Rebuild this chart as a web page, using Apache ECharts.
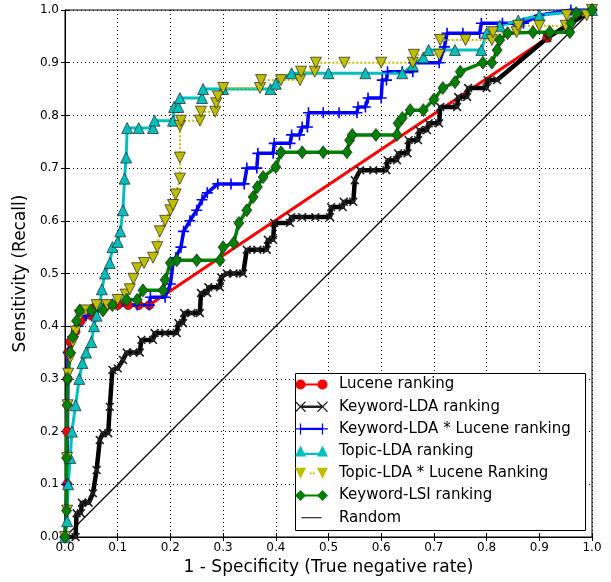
<!DOCTYPE html>
<html>
<head>
<meta charset="utf-8">
<script src="https://cdn.jsdelivr.net/npm/echarts@6/dist/echarts.min.js"></script>
<style>
  html, body { margin: 0; padding: 0; background: #fff; }
  #roc { width: 611px; height: 582px; }
</style>
</head>
<body>
<div id="roc"></div>
<script>
// ROC curves, points are [1 - specificity, sensitivity]
var seriesNames = ['Lucene ranking', 'Keyword-LDA ranking', 'Keyword-LDA * Lucene ranking',
    'Topic-LDA ranking', 'Topic-LDA * Lucene Ranking', 'Keyword-LSI ranking', 'Random'];

var tickValues = [0, 0.1, 0.2, 0.3, 0.4, 0.5, 0.6, 0.7, 0.8, 0.9, 1.0];

var luceneRoc = [[0, 0], [0.004, 0.1], [0.004, 0.2], [0.005, 0.3], [0.006, 0.35], [0.01, 0.37],
    [0.02, 0.39], [0.03, 0.41], [0.05, 0.42], [0.06, 0.44], [0.08, 0.44], [0.1, 0.44],
    [0.12, 0.44], [0.14, 0.44], [0.16, 0.44], [0.915, 0.947], [1, 1]];

var keywordLdaRoc = [[0, 0], [0.02, 0], [0.022, 0.045], [0.03, 0.045], [0.032, 0.065], [0.045, 0.065],
    [0.053, 0.083], [0.06, 0.127], [0.066, 0.184], [0.072, 0.197], [0.082, 0.197], [0.085, 0.247],
    [0.09, 0.317], [0.1, 0.32], [0.11, 0.336], [0.117, 0.35], [0.13, 0.35], [0.142, 0.35],
    [0.145, 0.374], [0.167, 0.374], [0.17, 0.387], [0.19, 0.387], [0.212, 0.387], [0.215, 0.406],
    [0.224, 0.406], [0.226, 0.425], [0.24, 0.425], [0.256, 0.425], [0.258, 0.463], [0.27, 0.463],
    [0.272, 0.474], [0.294, 0.474], [0.296, 0.493], [0.307, 0.5], [0.32, 0.5], [0.338, 0.5],
    [0.345, 0.545], [0.365, 0.545], [0.383, 0.545], [0.385, 0.564], [0.395, 0.564], [0.397, 0.596],
    [0.427, 0.596], [0.429, 0.607], [0.45, 0.607], [0.475, 0.607], [0.503, 0.607], [0.505, 0.626],
    [0.527, 0.626], [0.529, 0.636], [0.547, 0.636], [0.55, 0.677], [0.56, 0.696], [0.585, 0.696],
    [0.61, 0.696], [0.612, 0.715], [0.63, 0.715], [0.632, 0.728], [0.65, 0.728], [0.652, 0.753],
    [0.67, 0.753], [0.672, 0.772], [0.687, 0.772], [0.69, 0.785], [0.71, 0.785], [0.712, 0.816],
    [0.744, 0.816], [0.746, 0.835], [0.763, 0.835], [0.765, 0.852], [0.8, 0.852], [0.802, 0.867],
    [0.82, 0.867], [0.915, 0.947], [1, 1]];

var keywordLdaLuceneRoc = [[0, 0], [0.004, 0.1], [0.005, 0.25], [0.006, 0.35], [0.015, 0.38],
    [0.025, 0.4], [0.04, 0.42], [0.06, 0.43], [0.08, 0.44], [0.137, 0.44], [0.16, 0.44],
    [0.162, 0.455], [0.19, 0.455], [0.2, 0.48], [0.205, 0.52], [0.21, 0.53], [0.22, 0.55],
    [0.225, 0.58], [0.237, 0.6], [0.25, 0.62], [0.26, 0.64], [0.27, 0.653], [0.29, 0.67],
    [0.315, 0.67], [0.34, 0.67], [0.345, 0.7], [0.364, 0.7], [0.366, 0.728], [0.395, 0.728],
    [0.397, 0.747], [0.427, 0.747], [0.43, 0.763], [0.445, 0.763], [0.45, 0.778], [0.46, 0.778],
    [0.462, 0.805], [0.49, 0.805], [0.52, 0.805], [0.554, 0.805], [0.556, 0.816], [0.57, 0.816],
    [0.575, 0.833], [0.6, 0.833], [0.602, 0.867], [0.61, 0.867], [0.612, 0.883], [0.64, 0.883],
    [0.66, 0.883], [0.662, 0.9], [0.71, 0.9], [0.72, 0.93], [0.725, 0.956], [0.755, 0.956],
    [0.787, 0.956], [0.79, 0.975], [0.83, 0.975], [0.87, 0.975], [0.9, 0.99], [0.96, 1], [1, 1]];

var topicLdaRoc = [[0, 0], [0.004, 0.03], [0.006, 0.1], [0.01, 0.15], [0.013, 0.2], [0.02, 0.25],
    [0.027, 0.3], [0.033, 0.33], [0.04, 0.35], [0.05, 0.37], [0.055, 0.4], [0.06, 0.42],
    [0.066, 0.44], [0.07, 0.47], [0.076, 0.5], [0.085, 0.52], [0.09, 0.55], [0.1, 0.56],
    [0.105, 0.58], [0.11, 0.62], [0.113, 0.68], [0.116, 0.72], [0.118, 0.776], [0.14, 0.776],
    [0.167, 0.776], [0.17, 0.79], [0.205, 0.79], [0.207, 0.816], [0.215, 0.816], [0.218, 0.833],
    [0.26, 0.833], [0.262, 0.85], [0.3, 0.85], [0.39, 0.85], [0.4, 0.86], [0.43, 0.88],
    [0.5, 0.88], [0.57, 0.88], [0.64, 0.88], [0.66, 0.895], [0.68, 0.91], [0.69, 0.924],
    [0.74, 0.924], [0.79, 0.924], [0.8, 0.956], [0.825, 0.97], [0.86, 0.98], [0.9, 0.99], [1, 1]];

var topicLdaLuceneRoc = [[0, 0], [0.004, 0.05], [0.004, 0.15], [0.005, 0.25], [0.006, 0.31],
    [0.01, 0.34], [0.015, 0.37], [0.02, 0.39], [0.028, 0.42], [0.04, 0.43], [0.06, 0.44],
    [0.08, 0.44], [0.1, 0.45], [0.115, 0.46], [0.123, 0.47], [0.13, 0.49], [0.137, 0.51],
    [0.15, 0.52], [0.167, 0.53], [0.175, 0.55], [0.18, 0.58], [0.19, 0.6], [0.2, 0.62],
    [0.205, 0.63], [0.21, 0.65], [0.218, 0.68], [0.218, 0.72], [0.218, 0.78], [0.22, 0.79],
    [0.256, 0.79], [0.258, 0.807], [0.285, 0.807], [0.287, 0.823], [0.29, 0.836], [0.3, 0.852],
    [0.37, 0.852], [0.372, 0.867], [0.41, 0.867], [0.446, 0.867], [0.448, 0.883], [0.474, 0.883],
    [0.476, 0.9], [0.53, 0.9], [0.6, 0.9], [0.66, 0.9], [0.662, 0.915], [0.71, 0.915],
    [0.712, 0.943], [0.76, 0.943], [0.81, 0.943], [0.812, 0.958], [0.857, 0.958], [0.86, 0.97],
    [0.9, 0.97], [0.95, 0.97], [0.952, 0.99], [0.99, 0.99], [1, 1]];

var keywordLsiRoc = [[0, 0], [0.003, 0.05], [0.003, 0.15], [0.004, 0.25], [0.005, 0.3],
    [0.01, 0.35], [0.015, 0.38], [0.022, 0.41], [0.028, 0.43], [0.05, 0.43], [0.072, 0.43],
    [0.09, 0.44], [0.117, 0.45], [0.137, 0.45], [0.148, 0.468], [0.186, 0.468], [0.19, 0.488],
    [0.2, 0.52], [0.212, 0.525], [0.25, 0.525], [0.294, 0.525], [0.3, 0.55], [0.32, 0.558],
    [0.33, 0.596], [0.345, 0.62], [0.357, 0.645], [0.365, 0.664], [0.376, 0.683], [0.4, 0.702],
    [0.41, 0.73], [0.45, 0.73], [0.49, 0.73], [0.535, 0.73], [0.54, 0.753], [0.545, 0.763],
    [0.59, 0.763], [0.63, 0.763], [0.632, 0.785], [0.64, 0.795], [0.655, 0.81], [0.68, 0.81],
    [0.7, 0.83], [0.717, 0.852], [0.74, 0.863], [0.75, 0.883], [0.793, 0.9], [0.81, 0.9],
    [0.82, 0.924], [0.825, 0.943], [0.84, 0.956], [0.888, 0.958], [0.92, 0.958], [0.958, 0.958],
    [0.96, 0.975], [0.97, 0.994], [1, 1]];

var randomRoc = [[0, 0], [1, 1]];

// marker shapes
var plusPath = 'path://M4.7,0h1.6v4.7h4.7v1.6h-4.7v4.7h-1.6v-4.7h-4.7v-1.6h4.7z';
// legend icons: two markers joined by a line, in a 36x12 box
var corner = 'M0,0l0.01,0l0,0.01z M36,12l-0.01,0l0,-0.01z ';
var legendIcons = [
    'path://' + corner + 'M0.5,6a5.5,5.5 0 1,1 11,0a5.5,5.5 0 1,1 -11,0z M11,4.8h14v2.4h-14z M24.5,6a5.5,5.5 0 1,1 11,0a5.5,5.5 0 1,1 -11,0z',
    'path://' + corner + 'M0,1L1,0L6,5L11,0L12,1L7,6L12,11L11,12L6,7L1,12L0,11L5,6Z M6,4.6h24v2.8h-24z M24,1L25,0L30,5L35,0L36,1L31,6L36,11L35,12L30,7L25,12L24,11L29,6Z',
    'path://' + corner + 'M5.3,0h1.4v5.3h5.3v1.4h-5.3v5.3h-1.4v-5.3h-5.3v-1.4h5.3z M6,4.8h24v2.4h-24z M29.3,0h1.4v5.3h5.3v1.4h-5.3v5.3h-1.4v-5.3h-5.3v-1.4h5.3z',
    'path://' + corner + 'M0,12L6,0L12,12Z M10,7.8h16v2.4h-16z M24,12L30,0L36,12Z',
    'path://' + corner + 'M0,0L12,0L6,12Z M16,5h2v2h-2z M19.5,5h2v2h-2z M24,0L36,0L30,12Z',
    'path://' + corner + 'M0,6L6,0L12,6L6,12Z M10,4.8h16v2.4h-16z M24,6L30,0L36,6L30,12Z',
    'path://' + corner + 'M7,5.4h22v1.2h-22z'
];

var chart = echarts.init(document.getElementById('roc'));

function rocSeries(name, data, color, symbol, size, lineWidth, extra) {
    var s = {
        name: name,
        type: 'line',
        data: data,
        symbol: symbol,
        symbolSize: size,
        showSymbol: true,
        showAllSymbol: true,
        color: color,
        itemStyle: { color: color, borderColor: '#222', borderWidth: 0.7 },
        lineStyle: { color: color, width: lineWidth },
        emphasis: { disabled: true }
    };
    for (var k in extra) s[k] = extra[k];
    return s;
}

// one legend per entry, so each can carry its own two-marker icon
var legendBox = { left: 295, top: 373, width: 290, height: 157 };
var legends = seriesNames.map(function (n, i) {
    return {
        orient: 'vertical',
        left: legendBox.left, top: legendBox.top + 4 + i * 22.2,
        padding: 0,
        itemWidth: 45, itemHeight: 11,
        icon: legendIcons[i],
        itemStyle: { borderWidth: 0 },
        z: 6,
        textStyle: { fontFamily: 'DejaVu Sans', fontSize: 15, color: '#000' },
        data: [n]
    };
});

var axisFont = { fontFamily: 'DejaVu Sans', fontSize: 12, color: '#000' };

var option = {
    animation: false,
    backgroundColor: '#fff',
    grid: {
        left: 65, right: 19, top: 10, bottom: 45,
        show: true, borderColor: '#000', borderWidth: 1
    },
    legend: legends,
    graphic: [{
        type: 'rect', z: 5,
        shape: { x: legendBox.left + 0.5, y: legendBox.top + 0.5, width: legendBox.width, height: legendBox.height },
        style: { fill: '#fff', stroke: '#000', lineWidth: 1 }
    }],
    xAxis: [{
        type: 'value', min: 0, max: 1, interval: 0.1,
        name: '1 - Specificity (True negative rate)',
        nameLocation: 'middle', nameGap: 21,
        nameTextStyle: { fontFamily: 'DejaVu Sans', fontSize: 17, color: '#000' },
        axisLine: { show: true, onZero: false, lineStyle: { color: '#000', width: 1 } },
        axisTick: { show: true, inside: true, length: 4, lineStyle: { color: '#000' } },
        axisLabel: Object.assign({ margin: 5, formatter: function (v) { return v.toFixed(1); } }, axisFont),
        splitLine: { show: true, lineStyle: { color: '#000', type: [1, 3], width: 1 } }
    }, {
        type: 'value', min: 0, max: 1, interval: 0.1, position: 'top',
        axisLine: { show: false },
        axisTick: { show: true, inside: true, length: 4, lineStyle: { color: '#000' } },
        axisLabel: { show: false }, splitLine: { show: false }
    }],
    yAxis: [{
        type: 'value', min: 0, max: 1, interval: 0.1,
        name: 'Sensitivity (Recall)',
        nameLocation: 'middle', nameGap: 32,
        nameTextStyle: { fontFamily: 'DejaVu Sans', fontSize: 17, color: '#000' },
        axisLine: { show: true, onZero: false, lineStyle: { color: '#000', width: 1 } },
        axisTick: { show: true, inside: true, length: 4, lineStyle: { color: '#000' } },
        axisLabel: Object.assign({ margin: 6, formatter: function (v) { return v.toFixed(1); } }, axisFont),
        splitLine: { show: true, lineStyle: { color: '#000', type: [1, 3], width: 1 } }
    }, {
        type: 'value', min: 0, max: 1, interval: 0.1, position: 'right',
        axisLine: { show: false },
        axisTick: { show: true, inside: true, length: 4, lineStyle: { color: '#000' } },
        axisLabel: { show: false }, splitLine: { show: false }
    }],
    series: [
        rocSeries(seriesNames[0], luceneRoc, '#ff0000', 'circle', 9, 3),
        rocSeries(seriesNames[1], keywordLdaRoc, '#000000', plusPath, 11, 4.5,
            { symbolRotate: 45, itemStyle: { color: '#222', borderWidth: 0 } }),
        rocSeries(seriesNames[2], keywordLdaLuceneRoc, '#0000ff', plusPath, 11, 3.5,
            { itemStyle: { color: '#0000ff', borderWidth: 0 } }),
        rocSeries(seriesNames[3], topicLdaRoc, '#00bfbf', 'triangle', 11, 3),
        rocSeries(seriesNames[4], topicLdaLuceneRoc, '#bfbf00', 'triangle', 11, 2,
            { symbolRotate: 180, lineStyle: { color: '#bfbf00', width: 2, type: 'dotted' } }),
        rocSeries(seriesNames[5], keywordLsiRoc, '#008000', 'diamond', [10, 13], 3.5),
        {
            name: seriesNames[6], type: 'line', data: randomRoc,
            showSymbol: false, symbol: 'none', color: '#000',
            itemStyle: { color: '#000' },
            lineStyle: { color: '#000', width: 1.2 },
            emphasis: { disabled: true }
        }
    ]
};
chart.setOption(option);
</script>
</body>
</html>
